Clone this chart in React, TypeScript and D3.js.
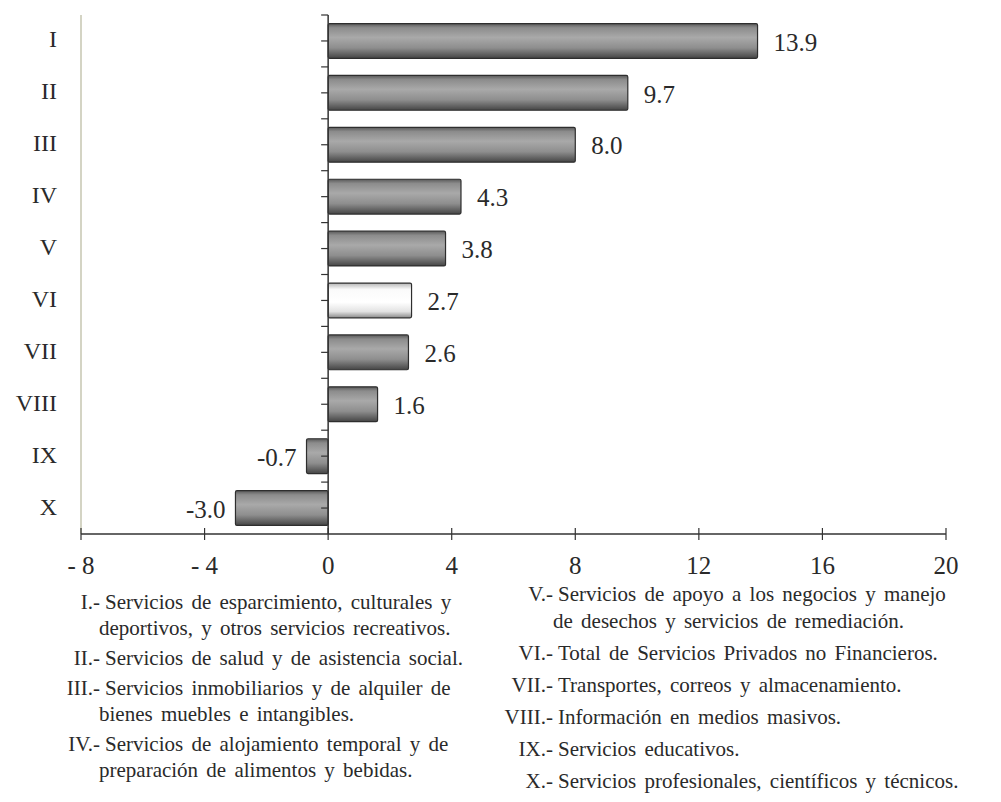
import React from "react";
import * as d3 from "d3";

const categories = ["I", "II", "III", "IV", "V", "VI", "VII", "VIII", "IX", "X"];
const values = [13.9, 9.7, 8.0, 4.3, 3.8, 2.7, 2.6, 1.6, -0.7, -3.0];
const highlight = ["VI"];
const xTicks = [-8, -4, 0, 4, 8, 12, 16, 20];
const xTickLabels = ["- 8", "- 4", "0", "4", "8", "12", "16", "20"];

const leftLegend: [string, string[]][] = [
  ["I.-", ["Servicios de esparcimiento, culturales y", "deportivos, y otros servicios recreativos."]],
  ["II.-", ["Servicios de salud y de asistencia social."]],
  ["III.-", ["Servicios inmobiliarios y de alquiler de", "bienes muebles e intangibles."]],
  ["IV.-", ["Servicios de alojamiento temporal y de", "preparación de alimentos y bebidas."]],
];
const rightLegend: [string, string[]][] = [
  ["V.-", ["Servicios de apoyo a los negocios y manejo", "de desechos y servicios de remediación."]],
  ["VI.-", ["Total de Servicios Privados no Financieros."]],
  ["VII.-", ["Transportes, correos y almacenamiento."]],
  ["VIII.-", ["Información en medios masivos."]],
  ["IX.-", ["Servicios educativos."]],
  ["X.-", ["Servicios profesionales, científicos y técnicos."]],
];

const W = 1001;
const H = 802;
const FONT = "'Liberation Serif', 'Times New Roman', serif";
const TEXT = "#2a2a2a";

type LegendLine = { prefix: string | null; text: string; y: number; cont: boolean };

function layoutLegend(items: [string, string[]][], startY: number, lineGap: number, itemGap: number): LegendLine[] {
  const out: LegendLine[] = [];
  let y = startY;
  items.forEach(([p, lines], i) => {
    if (i > 0) y += itemGap;
    lines.forEach((t, j) => {
      if (j > 0) y += lineGap;
      out.push({ prefix: j === 0 ? p : null, text: t, y, cont: j > 0 });
    });
  });
  return out;
}

const fmt = (v: number) => v.toFixed(1);

export default function App() {
  const x = d3.scaleLinear().domain([-8, 20]).range([81, 946]);
  const y = d3.scaleBand<string>().domain(categories).range([15, 534]).padding(0);
  const bw = y.bandwidth();
  const barH = bw * 0.67;
  const axisY = 534;
  const x0 = x(0);

  const yTicks: number[] = [];
  categories.forEach((c) => {
    yTicks.push(y(c)!);
    yTicks.push(y(c)! + bw / 2);
  });

  const left = layoutLegend(leftLegend, 609, 26, 30);
  const right = layoutLegend(rightLegend, 601, 27, 32);

  return (
    <svg width={W} height={H} style={{ position: "absolute", left: 0, top: 0, background: "#fff" }} fontFamily={FONT}>
      <defs>
        <linearGradient id="gGray" x1="0" y1="0" x2="0" y2="1">
          <stop offset="0%" stopColor="#5a5a5a" />
          <stop offset="12%" stopColor="#8c8c8c" />
          <stop offset="40%" stopColor="#a9a9a9" />
          <stop offset="70%" stopColor="#8e8e8e" />
          <stop offset="100%" stopColor="#454545" />
        </linearGradient>
        <linearGradient id="gWhite" x1="0" y1="0" x2="0" y2="1">
          <stop offset="0%" stopColor="#b5b5b5" />
          <stop offset="18%" stopColor="#fafafa" />
          <stop offset="55%" stopColor="#ffffff" />
          <stop offset="82%" stopColor="#e2e2e2" />
          <stop offset="100%" stopColor="#8a8a8a" />
        </linearGradient>
      </defs>

      {/* left plot border */}
      <line x1={x(-8)} x2={x(-8)} y1={15} y2={axisY} stroke="#d4d4c4" strokeWidth={2} />

      {/* bars */}
      {categories.map((c, i) => {
        const v = values[i];
        const cy = y(c)! + bw / 2;
        const bx = Math.min(x(v), x0);
        const w = Math.abs(x(v) - x0);
        const hl = highlight.includes(c);
        return (
          <g key={c}>
            <rect x={bx} y={cy - barH / 2} width={w} height={barH} fill={hl ? "url(#gWhite)" : "url(#gGray)"} stroke="#2e2e2e" strokeWidth={1.2} rx={1.5} />
            <text
              x={v >= 0 ? x(v) + 16 : x(v) - 10}
              y={cy + 4}
              textAnchor={v >= 0 ? "start" : "end"}
              dominantBaseline="middle"
              fontSize={25}
              fill={TEXT}
            >
              {fmt(v)}
            </text>
            <text x={57} y={cy + 1} textAnchor="end" dominantBaseline="middle" fontSize={24} fill={TEXT}>
              {c}
            </text>
          </g>
        );
      })}

      {/* y axis */}
      <line x1={x0} x2={x0} y1={15} y2={axisY} stroke="#333" strokeWidth={1.5} />
      {yTicks.map((t, i) => (
        <line key={i} x1={x0 - 7} x2={x0} y1={t} y2={t} stroke="#333" strokeWidth={1.2} />
      ))}

      {/* x axis */}
      <line x1={x(-8)} x2={x(20)} y1={axisY} y2={axisY} stroke="#333" strokeWidth={1.5} />
      {xTicks.map((t, i) => (
        <g key={t}>
          <line x1={x(t)} x2={x(t)} y1={axisY - 6} y2={axisY + 6} stroke="#333" strokeWidth={1.2} />
          <text x={x(t)} y={574} textAnchor="middle" fontSize={25} fill={TEXT}>
            {xTickLabels[i]}
          </text>
        </g>
      ))}

      {/* legend */}
      {left.map((l, i) => (
        <g key={"l" + i}>
          {l.prefix && (
            <text x={100} y={l.y} textAnchor="end" fontSize={21} fill={TEXT}>
              {l.prefix}
            </text>
          )}
          <text x={l.cont ? 99 : 105} y={l.y} fontSize={21} fill={TEXT} wordSpacing={3}>
            {l.text}
          </text>
        </g>
      ))}
      {right.map((l, i) => (
        <g key={"r" + i}>
          {l.prefix && (
            <text x={553} y={l.y} textAnchor="end" fontSize={21} fill={TEXT}>
              {l.prefix}
            </text>
          )}
          <text x={l.cont ? 553 : 558} y={l.y} fontSize={21} fill={TEXT} wordSpacing={3}>
            {l.text}
          </text>
        </g>
      ))}
    </svg>
  );
}
